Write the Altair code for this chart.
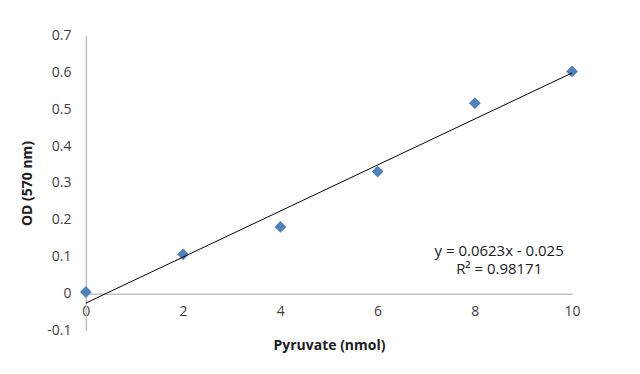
import altair as alt
import pandas as pd

# data
pyruvate = [0, 2, 4, 6, 8, 10]
od = [0.005, 0.107, 0.181, 0.331, 0.516, 0.602]

trend_x = [0, 10]
trend_y = [-0.025, 0.598]

eq_lines = ["y = 0.0623x - 0.025", "R² = 0.98171"]
eq_x = [8.5, 8.5]
eq_y = [0.116, 0.066]

y_ticks = [-0.1, 0.0, 0.1, 0.2, 0.3, 0.4, 0.5, 0.6, 0.7]
x_ticks = [0, 2, 4, 6, 8, 10]

FONT = "Open Sans"

pts = pd.DataFrame({"x": pyruvate, "y": od})
trend = pd.DataFrame({"x": trend_x, "y": trend_y})
eq = pd.DataFrame({"t": eq_lines, "x": eq_x, "y": eq_y})

xscale = alt.Scale(domain=[0, 10], nice=False, zero=False)
yscale = alt.Scale(domain=[-0.1, 0.7], nice=False, zero=False)

xaxis = alt.Axis(
    title="Pyruvate (nmol)",
    values=x_ticks,
    offset=-37,
    grid=False,
    ticks=False,
    labelFlush=False,
    labelOverlap=False,
    domainColor="#bfbfbf",
    domainWidth=1.5,
    labelPadding=11,
    labelFontSize=14,
    labelColor="#404040",
    labelFont=FONT,
    titleFont=FONT,
    titleFontSize=14,
    titleFontWeight="bold",
    titleColor="#202020",
    titlePadding=20,
)
yaxis = alt.Axis(
    title="OD (570 nm)",
    values=y_ticks,
    labelExpr="datum.value == 0 ? '0' : replace(format(datum.value, '.1f'), '\u2212', '-')",
    grid=False,
    ticks=False,
    labelFlush=False,
    labelOverlap=False,
    labelBound=False,
    domainColor="#bfbfbf",
    domainWidth=1.5,
    labelPadding=15,
    labelFontSize=14,
    labelColor="#404040",
    labelFont=FONT,
    titleFont=FONT,
    titleFontSize=14,
    titleFontWeight="bold",
    titleColor="#202020",
    titlePadding=12,
)

X = alt.X("x:Q", scale=xscale, axis=xaxis)
Y = alt.Y("y:Q", scale=yscale, axis=yaxis)

line = alt.Chart(trend).mark_line(color="#000000", strokeWidth=1).encode(x=X, y=Y)

points = alt.Chart(pts).mark_point(
    shape="diamond", filled=True, size=140, color="#4f81bd", opacity=1
).encode(x=X, y=Y)

text = alt.Chart(eq).mark_text(
    font=FONT, fontSize=15, color="#202020", align="center", baseline="middle"
).encode(x=X, y=Y, text="t:N")

chart = (
    alt.layer(points, line, text)
    .properties(
        width=487,
        height=296,
        autosize=alt.AutoSizeParams(type="none"),
        padding={"left": 78, "top": 27, "right": 60, "bottom": 30},
        background="white",
    )
    .configure_view(stroke=None)
    .configure_axis(labelOverlap=False)
)

chart.save("out.html", embed_options={"renderer": "svg", "actions": False})
